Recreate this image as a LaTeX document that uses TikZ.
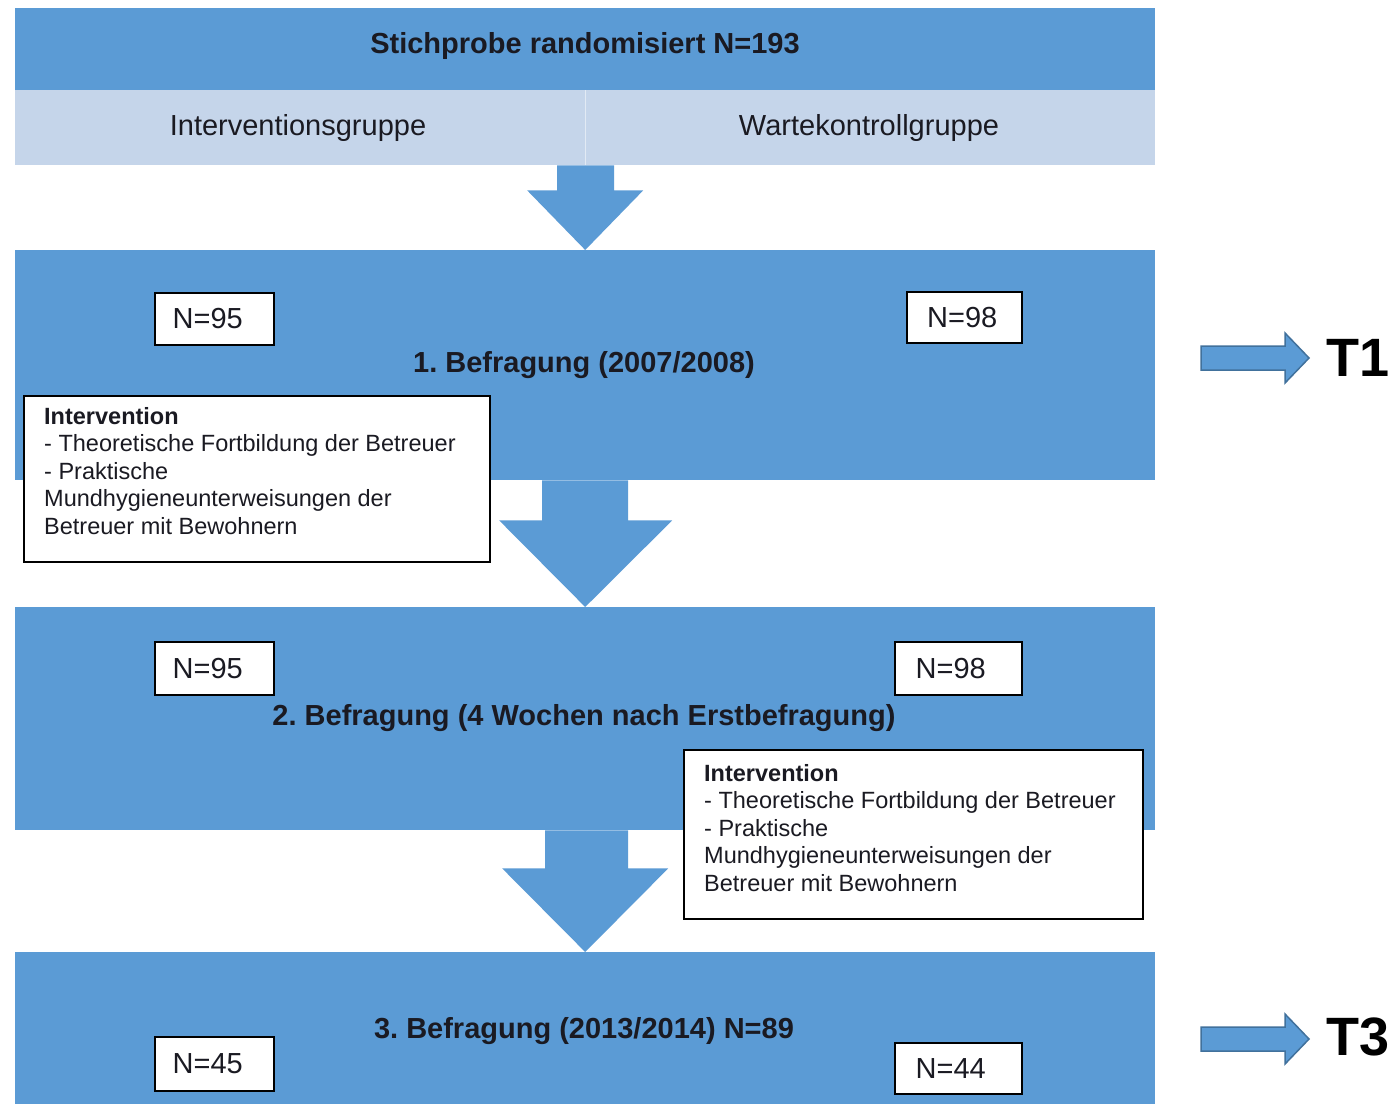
\documentclass[tikz,border=0pt]{standalone}
\usepackage{fontspec}
\setmainfont{Liberation Sans}
\usetikzlibrary{calc}
\definecolor{bandblue}{HTML}{5B9BD5}
\definecolor{lightband}{HTML}{C5D5EA}
\definecolor{arrowline}{HTML}{41719C}
\definecolor{txt}{HTML}{1A1A22}
\newcommand{\padr}{\hspace*{13pt}}
\begin{document}
\frenchspacing
\begin{tikzpicture}[x=1pt,y=-1pt,
  panel/.style={fill=bandblue, draw=none, minimum width=1140pt, anchor=north west, inner sep=0pt},
  title/.style={font=\fontsize{29}{34}\selectfont\bfseries, text=txt, inner sep=0pt},
  grouptxt/.style={font=\fontsize{29}{34}\selectfont, text=txt, inner sep=0pt},
  nbox/.style={draw=black, line width=1.5pt, fill=white, anchor=north west, inner sep=0pt, font=\fontsize{29}{34}\selectfont, text=txt},
  intbox/.style={draw=black, line width=1.8pt, fill=white, anchor=north west, inner sep=0pt},
  inttxt/.style={font=\fontsize{23.5}{27.5}\selectfont, align=left, anchor=north west, inner sep=0pt, text=txt},
  blockarrow/.style={fill=bandblue, draw=none},
  tarrow/.style={fill=bandblue, draw=arrowline, line width=1.5pt},
  tlabel/.style={font=\fontsize{54}{60}\selectfont\bfseries, anchor=west, inner sep=0pt, text=black}
]
\useasboundingbox (0,0) rectangle (1396,1104);
\fill[white] (0,0) rectangle (1396,1104);

% header
\node[panel, minimum height=82pt] (hdr) at (15,8) {};
\node[panel, fill=lightband, minimum height=75pt] (grp) at (15,90) {};
\draw[white, opacity=0.5, line width=1pt] (grp.north) -- (grp.south);

% survey panels
\node[panel, minimum height=230pt] (box1) at (15,250) {};
\node[panel, minimum height=223pt] (box2) at (15,607) {};
\node[panel, minimum height=152pt] (box3) at (15,952) {};

% block arrows
\fill[blockarrow] ($(grp.south)+(-28,0)$) -- ($(grp.south)+(29,0)$) -- ($(grp.south)+(29,25)$)
  -- ($(grp.south)+(58,25)$) -- (box1.north) -- ($(grp.south)+(-58,25)$) -- ($(grp.south)+(-28,25)$) -- cycle;
\fill[blockarrow] ($(box1.south)+(-43,0)$) -- ($(box1.south)+(43,0)$) -- ($(box1.south)+(43,40)$)
  -- ($(box1.south)+(87,40)$) -- (box2.north) -- ($(box1.south)+(-86,40)$) -- ($(box1.south)+(-43,40)$) -- cycle;
\fill[blockarrow] ($(box2.south)+(-40,0)$) -- ($(box2.south)+(43,0)$) -- ($(box2.south)+(43,38)$)
  -- ($(box2.south)+(83,38)$) -- (box3.north) -- ($(box2.south)+(-83,38)$) -- ($(box2.south)+(-40,38)$) -- cycle;

% texts
\node[title] (hdrtxt) at (585,46) {Stichprobe randomisiert N=193};
\node[grouptxt] (igrp) at (298,128) {Interventionsgruppe};
\node[grouptxt] (wgrp) at (869,128) {Wartekontrollgruppe};

\node[title] (t1) at (584,365) {1. Befragung (2007/2008)};
\node[title] (t2) at (584,718) {2. Befragung (4 Wochen nach Erstbefragung)};
\node[title] (t3) at (584,1031) {3. Befragung (2013/2014) N=89};

% N boxes
\node[nbox, minimum width=119pt, minimum height=52pt] (n1a) at (154,292) {N=95\padr};
\node[nbox, minimum width=115pt, minimum height=51pt] (n1b) at (906,291) {N=98\hspace*{4pt}};
\node[nbox, minimum width=119pt, minimum height=53pt] (n2a) at (154,641) {N=95\padr};
\node[nbox, minimum width=127pt, minimum height=53pt] (n2b) at (894,641) {N=98\hspace*{15pt}};
\node[nbox, minimum width=119pt, minimum height=54pt] (n3a) at (154,1036) {N=45\padr};
\node[nbox, minimum width=127pt, minimum height=51pt] (n3b) at (894,1042) {N=44\hspace*{15pt}};

% intervention boxes
\node[intbox, minimum width=466pt, minimum height=166pt] (iv1) at (23,395) {};
\node[inttxt] (iv1txt) at (44,407) {\textbf{Intervention}\\- Theoretische Fortbildung der Betreuer\\- Praktische\\Mundhygieneunterweisungen der\\Betreuer mit Bewohnern};
\node[intbox, minimum width=459pt, minimum height=169pt] (iv2) at (683,749) {};
\node[inttxt] (iv2txt) at (704,764) {\textbf{Intervention}\\- Theoretische Fortbildung der Betreuer\\- Praktische\\Mundhygieneunterweisungen der\\Betreuer mit Bewohnern};

% T arrows
\coordinate (a1) at (1201,358);
\filldraw[tarrow] ($(a1)+(0,-12)$) -- ($(a1)+(84,-12)$) -- ($(a1)+(84,-25)$) -- ($(a1)+(108,0)$)
  -- ($(a1)+(84,25)$) -- ($(a1)+(84,12)$) -- ($(a1)+(0,12)$) -- cycle;
\node[tlabel] (T1) at (1326,358) {T1};
\coordinate (a3) at (1201,1039);
\filldraw[tarrow] ($(a3)+(0,-12)$) -- ($(a3)+(84,-12)$) -- ($(a3)+(84,-25)$) -- ($(a3)+(108,0)$)
  -- ($(a3)+(84,25)$) -- ($(a3)+(84,12)$) -- ($(a3)+(0,12)$) -- cycle;
\node[tlabel] (T3) at (1326,1037) {T3};
\end{tikzpicture}
\end{document}
